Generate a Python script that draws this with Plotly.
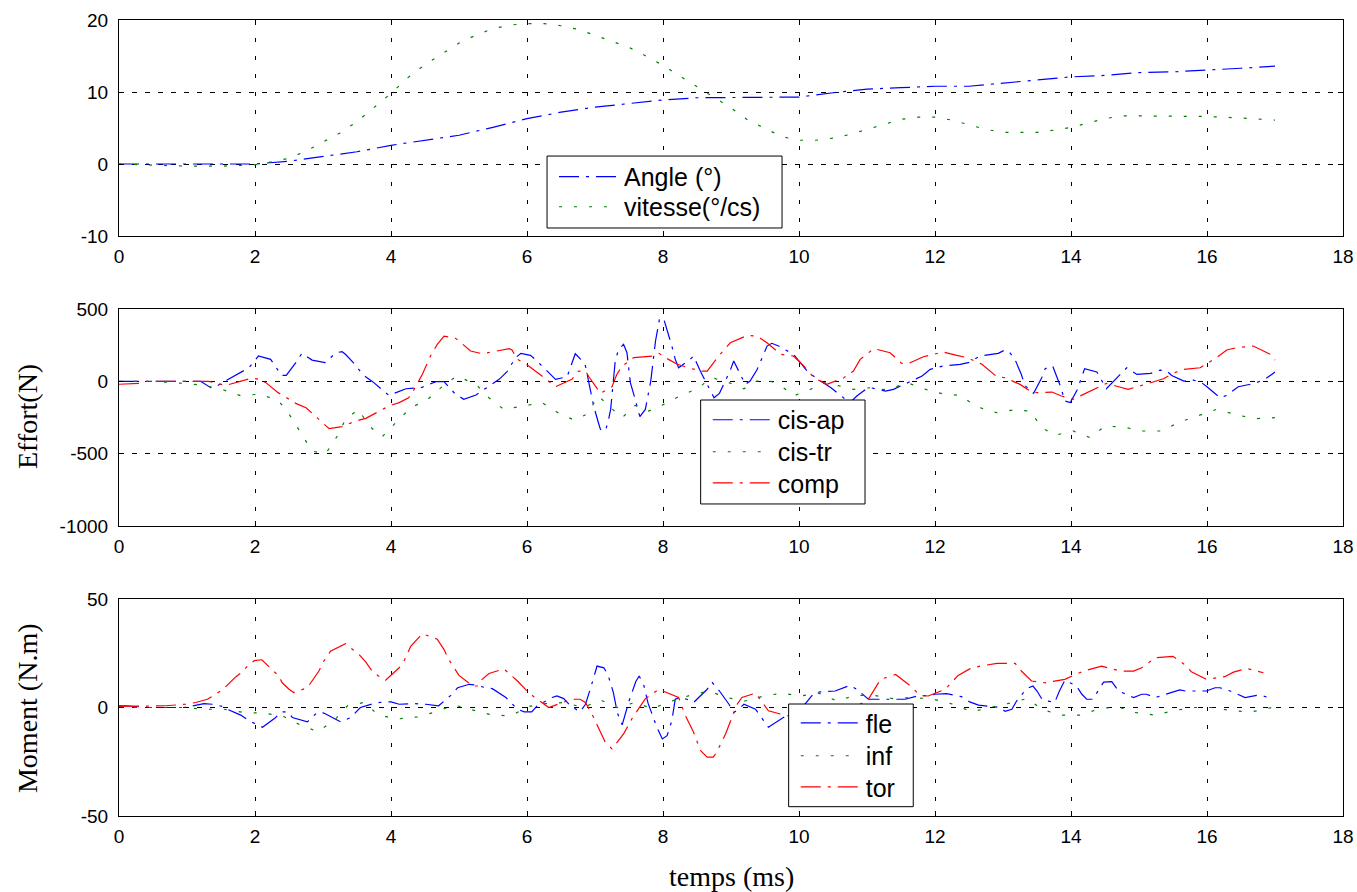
import plotly.graph_objects as go

# ---------------- Top panel: angle & vitesse ----------------
t_angle = [0, 0.5, 1.0, 1.5, 2.0, 2.5, 3.0, 3.5, 4.0, 4.5, 5.0, 5.5, 6.0, 6.5, 7.0, 7.5, 8.0, 8.5,
           9.0, 9.5, 10.0, 10.5, 11.0, 11.5, 12.0, 12.5, 13.0, 13.5, 14.0, 14.5, 15.0, 15.5, 16.0,
           16.5, 17.0]
angle = [0, 0, 0, 0, 0, 0.4, 1.0, 1.7, 2.6, 3.3, 4.0, 5.1, 6.3, 7.2, 7.9, 8.4, 8.9, 9.2,
         9.2, 9.2, 9.3, 9.9, 10.4, 10.6, 10.8, 10.8, 11.2, 11.7, 12.1, 12.3, 12.7, 12.8, 13.0,
         13.3, 13.6]

t_vit = [0, 0.5, 1.0, 1.5, 2.0, 2.25, 2.5, 2.75, 3.0, 3.25, 3.5, 3.75, 4.0, 4.25, 4.5, 4.75,
         5.0, 5.25, 5.5, 5.75, 6.0, 6.25, 6.5, 6.75, 7.0, 7.25, 7.5, 7.75, 8.0, 8.25, 8.5, 8.75,
         9.0, 9.25, 9.5, 9.75, 10.0, 10.25, 10.5, 10.75, 11.0, 11.25, 11.5, 11.75, 12.0, 12.25,
         12.5, 12.75, 13.0, 13.25, 13.5, 13.75, 14.0, 14.25, 14.5, 14.75, 15.0, 15.5, 16.0,
         16.5, 17.0]
vitesse = [0, -0.2, -0.3, -0.3, -0.1, 0.3, 0.8, 1.8, 3.0, 4.3, 5.9, 7.8, 9.8, 12.0, 13.8, 15.3,
           16.8, 17.9, 18.8, 19.3, 19.5, 19.5, 19.2, 18.7, 17.9, 17.0, 16.2, 15.0, 13.7, 12.2,
           10.7, 9.3, 7.8, 6.1, 4.9, 3.8, 3.3, 3.3, 3.6, 4.1, 4.8, 5.5, 6.2, 6.5, 6.5, 6.1,
           5.4, 4.8, 4.4, 4.4, 4.4, 4.7, 5.1, 5.7, 6.3, 6.7, 6.7, 6.6, 6.6, 6.4, 6.1]

# ---------------- Middle panel: efforts (N) ----------------
t_cis_ap = [0, 0.5, 1.0, 1.2, 1.35, 1.42, 1.59, 1.79, 1.91, 2.05, 2.23, 2.39, 2.46, 2.6, 2.69,
            2.84, 3.03, 3.19, 3.28, 3.33, 3.48, 3.58, 3.73, 3.91, 3.97, 4.22, 4.44, 4.66, 4.78,
            4.94, 5.07, 5.25, 5.44, 5.59, 5.71, 5.83, 5.91, 6.05, 6.12, 6.29, 6.42, 6.59, 6.71,
            6.79, 6.86, 6.93, 6.98, 7.05, 7.08, 7.15, 7.19, 7.23, 7.3, 7.35, 7.42, 7.47, 7.52,
            7.57, 7.66, 7.74, 7.79, 7.82, 7.89, 7.95, 8.01, 8.06, 8.13, 8.18, 8.23, 8.4, 8.45,
            8.55, 8.67, 8.75, 8.83, 8.99, 9.04, 9.21, 9.28, 9.38, 9.53, 9.6, 9.7, 9.92, 10.04,
            10.14, 10.34, 10.47, 10.62, 10.75, 10.85, 10.98, 11.05, 11.27, 11.39, 11.51, 11.61,
            11.81, 11.93, 12.05, 12.12, 12.37, 12.49, 12.66, 12.93, 13.03, 13.1, 13.18, 13.27,
            13.32, 13.45, 13.57, 13.62, 13.73, 13.84, 13.91, 13.99, 14.09, 14.2, 14.38, 14.52,
            14.71, 14.82, 14.97, 15.17, 15.31, 15.41, 15.48, 15.66, 15.8, 15.92, 16.0, 16.19,
            16.29, 16.46, 16.7, 16.85, 17.0]
cis_ap = [0, 0, 0, 0, -44, -37, 9, 65, 94, 175, 152, 41, 41, 129, 194,
          147, 129, 198, 205, 187, 113, 48, -2, -74, -97, -51, -44, -2, -2,
          -85, -124, -94, -37, 14, 69, 163, 194, 180, 152, 71, 14, 32, 191,
          152, 106, -55, -170, -286, -332, -343, -286, -194, 152, 221, 256, 198, -9,
          -90, -244, -194, -67, 2, 279, 435, 433, 359, 244, 152, 94, 152, 175,
          70, -37, -113, -83, 78, 141, -21, 2, 78, 244, 263, 244, 187, 118,
          60, -5, -44, -101, -147, -101, -55, -44, -67, -55, -28, -9,
          37, 83, 100, 106, 118, 129, 175, 194, 217, 198, 147, 48,
          -28, -83, 25, 88, 106, -28, -136, -147, -60, 88, 65, -51,
          41, 94, 48, 55, 78, 71, 41, 2, 9, -9, -37, -113,
          -97, -37, -14, 14, 64]

t_cis_tr = [0, 0.5, 0.96, 1.25, 1.54, 1.79, 2.08, 2.35, 2.52, 2.67, 2.84, 3.04, 3.21, 3.33,
            3.52, 3.68, 3.87, 4.07, 4.29, 4.53, 4.75, 4.97, 5.25, 5.44, 5.66, 5.95, 6.22, 6.47,
            6.69, 6.88, 7.05, 7.23, 7.4, 7.59, 7.79, 8.01, 8.25, 8.5, 8.72, 8.97, 9.19, 9.38,
            9.58, 9.73, 9.92, 10.17, 10.36, 10.58, 10.8, 11.05, 11.3, 11.59, 11.83, 12.1, 12.37,
            12.61, 12.91, 13.15, 13.4, 13.57, 13.76, 14.03, 14.28, 14.5, 14.77, 15.06, 15.33,
            15.6, 15.87, 16.14, 16.41, 16.7, 17.0]
cis_tr = [0, 0, -14, -28, -60, -99, -88, -136, -240, -355, -482, -500, -378, -263,
          -194, -309, -383, -286, -182, -129, -37, 37, -21, -113, -194, -170, -147, -221,
          -267, -228, -101, -182, -251, -166, -205, -159, -101, -51, 25, -9, -51, 2,
          2, -28, -101, -55, -9, -30, -55, -44, -60, -9, -51, -85, -97,
          -175, -217, -198, -205, -320, -373, -343, -389, -309, -316, -343, -343,
          -281, -240, -194, -228, -258, -251]

t_comp = [0, 0.32, 0.39, 1.32, 1.57, 1.84, 1.96, 2.06, 2.16, 2.34, 2.6, 2.75, 2.88, 3.04, 3.09,
          3.28, 3.48, 3.63, 3.82, 3.97, 4.12, 4.26, 4.34, 4.46, 4.58, 4.68, 4.78, 4.95, 5.0,
          5.17, 5.34, 5.54, 5.74, 5.78, 5.86, 6.0, 6.13, 6.22, 6.42, 6.66, 6.76, 6.86, 6.91,
          7.05, 7.08, 7.25, 7.32, 7.4, 7.57, 7.84, 7.94, 8.08, 8.21, 8.4, 8.57, 8.65, 8.82,
          8.99, 9.24, 9.38, 9.53, 9.73, 9.92, 10.07, 10.22, 10.41, 10.66, 10.8, 10.9, 11.1,
          11.34, 11.51, 11.61, 11.83, 12.12, 12.32, 12.47, 12.69, 12.91, 13.03, 13.2, 13.25,
          13.42, 13.5, 13.72, 13.86, 14.03, 14.25, 14.52, 14.7, 14.84, 15.09, 15.36, 15.5,
          15.65, 15.9, 16.14, 16.29, 16.44, 16.68, 16.93, 17.0]
comp = [-20, -14, 0, 0, -28, 9, 23, 14, -9, -78, -152, -182, -240, -309, -327,
        -313, -274, -256, -205, -170, -147, -113, -55, 48, 175, 256, 313, 297, 279,
        210, 191, 210, 226, 217, 152, 115, 71, 37, -37, 14, 71, 71, 32,
        -60, -83, -37, 48, 106, 164, 175, 194, 152, 118, 90, 71, 71, 175,
        267, 318, 313, 267, 187, 175, 106, 25, -21, 25, 71, 152, 226,
        198, 124, 124, 170, 203, 180, 164, 118, 32, 25, -9, -21,
        -74, -78, -74, -101, -124, -74, -14, -37, -55, -21, 18, 55,
        83, 94, 164, 217, 233, 244, 187, 147]

# ---------------- Bottom panel: moments (N.m) ----------------
t_fle = [0, 0.1, 0.44, 0.96, 1.25, 1.37, 1.52, 1.59, 1.79, 1.91, 2.11, 2.29, 2.39, 2.48, 2.55,
         2.77, 2.89, 2.97, 3.04, 3.26, 3.41, 3.55, 3.76, 3.9, 4.0, 4.12, 4.34, 4.51, 4.7, 4.88,
         4.98, 5.15, 5.27, 5.39, 5.49, 5.69, 5.86, 5.96, 6.07, 6.15, 6.37, 6.44, 6.54, 6.64,
         6.78, 6.86, 6.93, 7.03, 7.13, 7.19, 7.27, 7.33, 7.4, 7.5, 7.6, 7.65, 7.72, 7.78, 7.85,
         7.91, 7.99, 8.06, 8.13, 8.18, 8.25, 8.35, 8.45, 8.65, 8.72, 8.83, 8.97, 9.04, 9.14,
         9.19, 9.36, 9.46, 9.55, 9.77, 9.85, 10.0, 10.1, 10.22, 10.31, 10.53, 10.75, 10.85,
         11.02, 11.22, 11.56, 11.74, 11.93, 12.0, 12.17, 12.39, 12.51, 12.64, 12.74, 12.96,
         13.03, 13.13, 13.2, 13.35, 13.44, 13.5, 13.58, 13.76, 13.83, 13.91, 14.08, 14.16,
         14.23, 14.32, 14.48, 14.6, 14.7, 14.92, 15.04, 15.11, 15.24, 15.46, 15.6, 15.68,
         15.77, 15.99, 16.12, 16.19, 16.34, 16.56, 16.73, 16.8, 16.9]
fle = [0.8, 0.8, 0, 0, 1.8, 1.5, 0.5, -0.8, -3.5, -6.1, -9.1, -5.0, -2.0, -2.0, -4.6,
       -6.6, -3.0, -2.0, -3.0, -6.6, -4.6, 0, 2.0, 2.6, 2.6, 1.5, 1.8, 1.5, 0.8, 5.6,
       9.1, 10.7, 10.2, 9.1, 8.7, 4.6, -0.8, -2.0, -2.0, 0.8, 4.6, 5.3, 4.1, 0.8,
       -2.0, 1.5, 8.4, 19.1, 18.3, 15.2, 6.9, -2.6, -8.0, 3.0, 12.0, 14.5, 10.0, 2.0, -4.0,
       -9.1, -14.5, -13.0, -6.1, 3.8, 4.6, 3.8, 2.3, 8.4, 11.7, 7.6, 1.5, -2.3, 0,
       1.5, -0.8, -5.3, -9.1, -4.6, -3.8, -2.0, 2.0, 6.6, 7.2, 7.6, 10.2, 8.4,
       3.8, 3.8, 3.8, 5.3, 5.6, 6.1, 6.4, 5.0, 2.6, 1.1, 0.8, 0,
       -1.8, -0.8, 3.0, 8.7, 9.9, 7.6, 3.5, 2.3, 7.6, 12.6, 9.9, 6.1,
       3.8, 3.8, 11.7, 11.9, 7.6, 4.6, 6.1, 6.1, 4.6, 6.6, 8.1, 7.6,
       7.6, 7.6, 9.1, 9.1, 7.6, 4.6, 5.6, 5.6, 4.6]

t_inf = [0, 0.39, 0.98, 1.25, 1.54, 1.84, 2.11, 2.4, 2.67, 2.92, 3.16, 3.36, 3.6, 3.82, 4.09,
         4.39, 4.66, 4.93, 5.22, 5.49, 5.76, 6.03, 6.27, 6.54, 6.83, 7.08, 7.32, 7.59, 7.84,
         8.13, 8.4, 8.67, 8.94, 9.21, 9.48, 9.75, 10.02, 10.29, 10.56, 10.83, 11.1, 11.39,
         11.66, 11.95, 12.27, 12.54, 12.81, 13.1, 13.35, 13.59, 13.86, 14.13, 14.4, 14.67,
         14.94, 15.24, 15.5, 15.8, 16.09, 16.36, 16.66, 16.95]
inf = [0, 0, 0, -0.8, -0.8, -2.3, -2.6, -3.8, -8.1, -11.1, -6.1, 0.8, 2.3, -3.5, -5.3,
       -4.3, -2.0, 1.1, -1.2, -3.5, -3.8, 0.5, 1.8, 2.3, 0, 3.5, 0, 2.3, -0.5,
       3.0, 5.6, 7.6, 4.6, 3.0, 5.3, 6.6, 5.3, 6.6, 3.0, 5.6, 5.6, 4.1,
       4.6, 4.0, 1.5, -2.0, 0, 2.0, 4.1, -1.1, -3.5, -3.5, -0.8, 0.5,
       -2.3, -3.5, -1.5, 0, 0, -1.5, -2.0, 0]

t_tor = [0, 0.44, 0.69, 0.98, 1.13, 1.3, 1.52, 1.72, 1.81, 1.91, 1.99, 2.1, 2.35, 2.4, 2.5,
         2.57, 2.77, 2.94, 3.01, 3.11, 3.33, 3.53, 3.63, 3.74, 3.92, 4.12, 4.19, 4.29, 4.46,
         4.68, 4.78, 4.85, 5.0, 5.2, 5.27, 5.34, 5.44, 5.66, 5.86, 6.0, 6.1, 6.32, 6.59,
         6.66, 6.78, 6.86, 6.98, 7.08, 7.15, 7.25, 7.42, 7.54, 7.64, 7.74, 7.94, 8.23, 8.33,
         8.45, 8.55, 8.65, 8.74, 8.79, 8.92, 9.01, 9.09, 9.16, 9.36, 9.55, 9.68, 9.82, 10.0,
         10.3, 10.6, 10.85, 11.02, 11.2, 11.42, 11.64, 11.78, 11.9, 12.15, 12.34, 12.51,
         12.66, 12.91, 13.18, 13.27, 13.42, 13.62, 13.91, 14.06, 14.23, 14.45, 14.72, 14.92,
         15.04, 15.24, 15.5, 15.65, 15.77, 15.99, 16.26, 16.39, 16.58, 16.83]
tor = [0.5, 0.8, 0.8, 1.5, 2.3, 3.8, 8.1, 14.2, 16.3, 19.8, 21.6, 22.0, 14.5, 11.4, 8.4,
       6.9, 9.1, 16.8, 21.3, 25.9, 29.4, 24.4, 20.9, 16.0, 12.6, 18.3, 21.3, 28.2, 34.0,
       31.5, 26.7, 22.1, 14.8, 9.9, 9.9, 13.0, 15.7, 17.8, 12.2, 7.6, 5.0, 0, 3.0,
       3.8, 3.8, 2.3, -4.6, -11.4, -16.0, -19.1, -12.2, -5.3, -0.8, 4.1, 8.4, 4.6, -3.8,
       -11.4, -19.8, -22.9, -22.9, -20.6, -12.2, -4.6, 1.5, 4.6, 6.6, -1.5, -2.6, -3.8, -4.0,
       -3.0, -1.5, 0.5, 3.8, 13.0, 15.2, 9.9, 5.6, 5.3, 8.4, 14.8, 17.8,
       19.1, 20.3, 20.3, 16.8, 12.2, 11.4, 13.0, 15.2, 17.2, 19.1, 16.8, 16.8,
       18.3, 22.9, 23.6, 20.3, 16.5, 13.0, 14.2, 16.3, 18.0, 16.0]

x_ticks = [0, 2, 4, 6, 8, 10, 12, 14, 16, 18]
y1_ticks = [-10, 0, 10, 20]
y2_ticks = [-1000, -500, 0, 500]
y3_ticks = [-50, 0, 50]

BLUE, GREEN, RED = "#0000FF", "#008000", "#FF0000"
DASHDOT = "20px,7px,3px,7px"
DOTTED = "3px,12px"

fig = go.Figure()

def add(x, y, name, color, dash, xa, ya, leg):
    fig.add_trace(go.Scatter(x=x, y=y, name=name, mode="lines", xaxis=xa, yaxis=ya,
                             line=dict(color=color, width=1.2, dash=dash),
                             legend=leg, hoverinfo="x+y"))

add(t_angle, angle, "Angle (°)", BLUE, DASHDOT, "x", "y", "legend")
add(t_vit, vitesse, "vitesse(°/cs)", GREEN, DOTTED, "x", "y", "legend2")
add(t_cis_ap, cis_ap, "cis-ap", BLUE, DASHDOT, "x2", "y2", "legend3")
add(t_cis_tr, cis_tr, "cis-tr", GREEN, DOTTED, "x2", "y2", "legend4")
add(t_comp, comp, "comp", RED, DASHDOT, "x2", "y2", "legend5")
add(t_fle, fle, "fle", BLUE, DASHDOT, "x3", "y3", "legend6")
add(t_inf, inf, "inf", GREEN, DOTTED, "x3", "y3", "legend7")
add(t_tor, tor, "tor", RED, DASHDOT, "x3", "y3", "legend8")

def labels(vals):
    return [str(v) for v in vals]  # plain hyphen-minus, as in the reference

tickfont = dict(family="Liberation Sans, Arial, sans-serif", size=19, color="black")
common_x = dict(range=[0, 18], tickvals=x_ticks, ticktext=labels(x_ticks), ticks="inside",
                ticklen=5, tickcolor="black", automargin=False,
                showline=True, linecolor="black", linewidth=1, mirror="allticks",
                showgrid=True, gridcolor="black", gridwidth=1, griddash="4px,14px",
                zeroline=False, tickfont=tickfont, ticklabelstandoff=3)
common_y = dict(ticks="inside", ticklen=5, tickcolor="black", automargin=False,
                showline=True, linecolor="black", linewidth=1, mirror="allticks",
                showgrid=True, gridcolor="black", gridwidth=1, griddash="5px,8px",
                zeroline=False, tickfont=tickfont, ticklabelstandoff=6)

legfont = dict(family="Liberation Sans, Arial, sans-serif", size=25, color="black")
legcommon = dict(bgcolor="rgba(0,0,0,0)", borderwidth=0, font=legfont,
                 xanchor="left", yanchor="middle", itemwidth=60, itemclick=False,
                 itemdoubleclick=False)

# legend entry positions (paper coordinates): one entry per legend
leg_pos = {
    "legend": (0.3554, 0.8028), "legend2": (0.3554, 0.7651),
    "legend3": (0.4810, 0.4975), "legend4": (0.4810, 0.4573), "legend5": (0.4810, 0.4183),
    "legend6": (0.5529, 0.1168), "legend7": (0.5529, 0.0754), "legend8": (0.5529, 0.0364),
}
leg_layout = {k: dict(x=v[0], y=v[1], **legcommon) for k, v in leg_pos.items()}

fig.update_layout(
    width=1357, height=892,
    margin=dict(l=119, r=14, t=20, b=76, autoexpand=False),
    paper_bgcolor="white", plot_bgcolor="white",
    xaxis=dict(domain=[0, 1], anchor="y", **common_x),
    yaxis=dict(domain=[0.7286, 1.0], anchor="x", range=[-10, 20], tickvals=y1_ticks,
               ticktext=labels(y1_ticks), **common_y),
    xaxis2=dict(domain=[0, 1], anchor="y2", **common_x),
    yaxis2=dict(domain=[0.3643, 0.6369], anchor="x2", range=[-1000, 500], tickvals=y2_ticks,
                ticktext=labels(y2_ticks), **common_y),
    xaxis3=dict(domain=[0, 1], anchor="y3", **common_x),
    yaxis3=dict(domain=[0, 0.2726], anchor="x3", range=[-50, 50], tickvals=y3_ticks,
                ticktext=labels(y3_ticks), **common_y),
    showlegend=True,
    **leg_layout,
)

# legend boxes (white, black border), drawn above the curves; legend text sits on top
legend_boxes = [(0.3497, 0.7387, 0.5417, 0.8291),
                (0.4752, 0.3920, 0.6095, 0.5226),
                (0.5471, 0.0117, 0.6489, 0.1407)]
for x0, y0, x1, y1 in legend_boxes:
    fig.add_shape(type="rect", xref="paper", yref="paper", x0=x0, y0=y0, x1=x1, y1=y1,
                  fillcolor="white", line=dict(color="black", width=1), layer="above")

titlefont = dict(family="Liberation Serif, Times New Roman, serif", size=28, color="black")
fig.add_annotation(text="Effort(N)", xref="paper", yref="paper", x=-0.0743, y=0.5013,
                   textangle=-90, showarrow=False, font=titlefont, xanchor="center", yanchor="middle")
fig.add_annotation(text="Moment (N.m)", xref="paper", yref="paper", x=-0.0743, y=0.1357,
                   textangle=-90, showarrow=False, font=titlefont, xanchor="center", yanchor="middle")
fig.add_annotation(text="temps (ms)", xref="paper", yref="paper", x=0.5, y=-0.0754,
                   showarrow=False, font=titlefont, xanchor="center", yanchor="middle")

# remove the default 8 px page margin so the 1357x892 figure fills the window exactly
fig.write_html("out.html",
               config={"displayModeBar": False},
               post_script="document.body.style.margin='0';"
                           "document.documentElement.style.overflow='hidden';")
